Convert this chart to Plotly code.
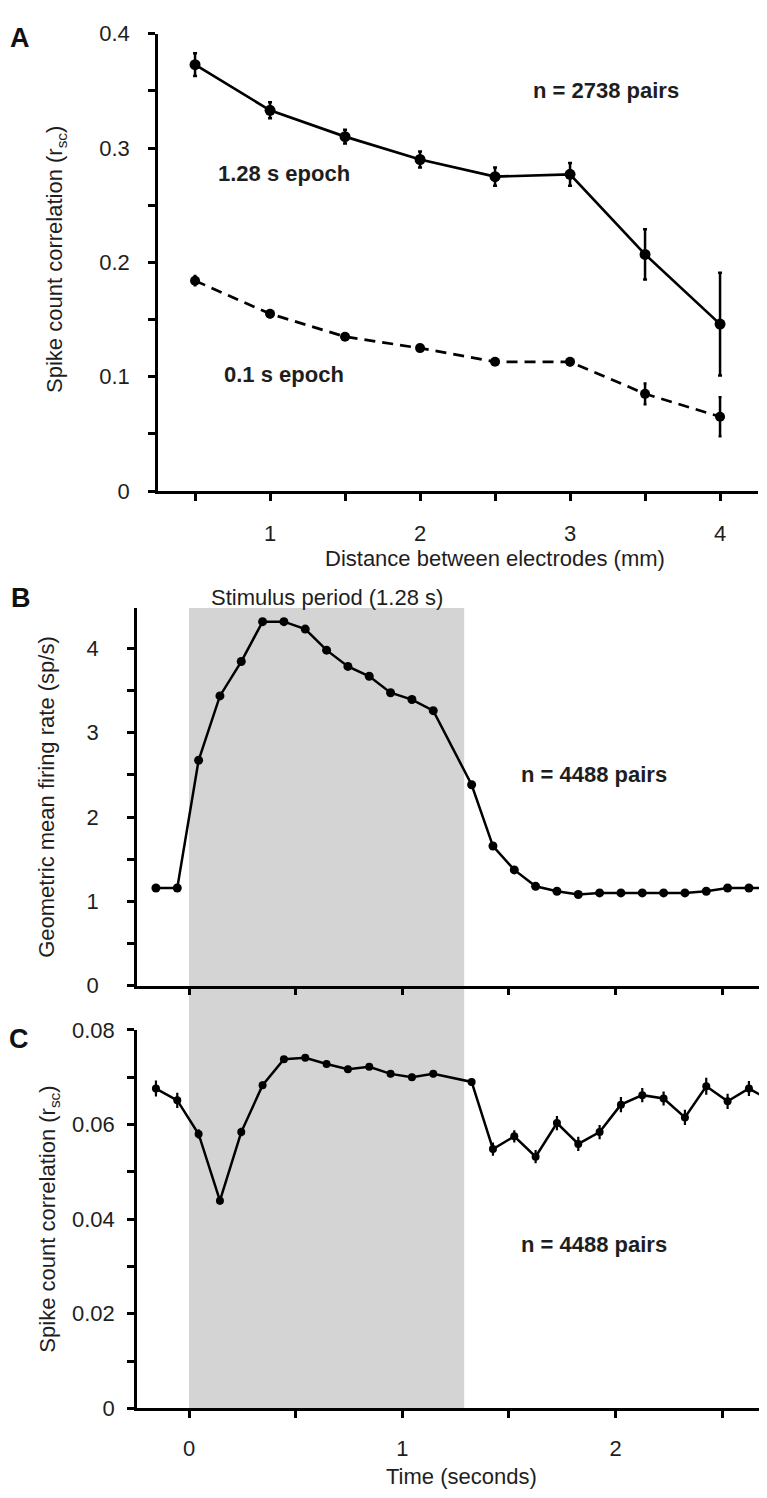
import plotly.graph_objects as go

# ---------------- data ----------------
# Panel A
distance_mm = [0.5, 1.0, 1.5, 2.0, 2.5, 3.0, 3.5, 4.0]
rsc_long = [0.373, 0.333, 0.310, 0.290, 0.275, 0.277, 0.207, 0.146]
rsc_long_err = [0.010, 0.007, 0.006, 0.007, 0.008, 0.010, 0.022, 0.045]
rsc_short = [0.184, 0.155, 0.135, 0.125, 0.113, 0.113, 0.085, 0.065]
rsc_short_err = [0.004, 0.003, 0.002, 0.002, 0.002, 0.003, 0.009, 0.017]

# Panels B and C
time_s = [-0.155, -0.055, 0.045, 0.145, 0.245, 0.345, 0.445, 0.545, 0.645, 0.745,
          0.845, 0.945, 1.045, 1.145, 1.325, 1.425, 1.525, 1.625, 1.725, 1.825,
          1.925, 2.025, 2.125, 2.225, 2.325, 2.425, 2.525, 2.625, 2.725]
rate = [1.158, 1.158, 2.674, 3.437, 3.845, 4.318, 4.318, 4.230, 3.980, 3.787,
        3.670, 3.475, 3.394, 3.262, 2.383, 1.656, 1.373, 1.178, 1.120, 1.081,
        1.100, 1.100, 1.100, 1.100, 1.100, 1.120, 1.158, 1.158, 1.158]
rsc_time = [0.0676, 0.0651, 0.0580, 0.0439, 0.0584, 0.0683, 0.0738, 0.0741, 0.0728, 0.0717,
            0.0722, 0.0707, 0.0700, 0.0707, 0.0690, 0.0548, 0.0575, 0.0532, 0.0603, 0.0559,
            0.0584, 0.0642, 0.0662, 0.0655, 0.0615, 0.0681, 0.0649, 0.0676, 0.0651]
rsc_time_err = [0.0017, 0.0016, 0.0010, 0.0008, 0.0009, 0.0008, 0.0007, 0.0007, 0.0007, 0.0007,
                0.0007, 0.0007, 0.0007, 0.0007, 0.0008, 0.0014, 0.0013, 0.0014, 0.0015, 0.0015,
                0.0015, 0.0016, 0.0015, 0.0015, 0.0016, 0.0018, 0.0016, 0.0016, 0.0016]
stim_start, stim_end = 0.0, 1.29

# tick values / labels (major = labelled, minor = unlabelled)
a_yticks = [0, 0.1, 0.2, 0.3, 0.4]
a_ytext = ["0", "0.1", "0.2", "0.3", "0.4"]
a_yminor = [0.05, 0.15, 0.25, 0.35]
a_xticks = [1, 2, 3, 4]
a_xtext = ["1", "2", "3", "4"]
a_xminor = [0.5, 1.5, 2.5, 3.5]
b_yticks = [0, 1, 2, 3, 4]
b_ytext = ["0", "1", "2", "3", "4"]
b_yminor = [0.5, 1.5, 2.5, 3.5]
t_ticks = [0, 1, 2]
t_text = ["0", "1", "2"]
t_minor = [0.5, 1.5, 2.5]
t_all = [0, 0.5, 1, 1.5, 2, 2.5]
c_yticks = [0, 0.02, 0.04, 0.06, 0.08]
c_ytext = ["0", "0.02", "0.04", "0.06", "0.08"]
c_yminor = [0.01, 0.03, 0.05, 0.07]

# ---------------- layout helpers ----------------
W, H = 767, 1498
FONT = "Liberation Sans, Arial, Helvetica, sans-serif"


def fx(p):
    return p / W


def fy(p):
    return 1 - p / H


fig = go.Figure()

# Panel A traces
fig.add_trace(go.Scatter(
    x=distance_mm, y=rsc_long, mode="lines+markers",
    line=dict(color="black", width=2.7),
    marker=dict(color="black", size=11),
    error_y=dict(type="data", array=rsc_long_err, color="black", thickness=2.5, width=2),
    xaxis="x", yaxis="y", showlegend=False))
fig.add_trace(go.Scatter(
    x=distance_mm, y=rsc_short, mode="lines+markers",
    line=dict(color="black", width=2.7, dash="11px,7px"),
    marker=dict(color="black", size=10),
    error_y=dict(type="data", array=rsc_short_err, color="black", thickness=2.5, width=1.5),
    xaxis="x", yaxis="y", showlegend=False))

# Panel B trace
fig.add_trace(go.Scatter(
    x=time_s, y=rate, mode="lines+markers",
    line=dict(color="black", width=2.5),
    marker=dict(color="black", size=9),
    cliponaxis=False,
    xaxis="x2", yaxis="y2", showlegend=False))

# Panel C trace
fig.add_trace(go.Scatter(
    x=time_s, y=rsc_time, mode="lines+markers",
    line=dict(color="black", width=2.5),
    marker=dict(color="black", size=8),
    error_y=dict(type="data", array=rsc_time_err, color="black", thickness=2.2, width=0),
    cliponaxis=False,
    xaxis="x3", yaxis="y3", showlegend=False))

axis_style = dict(showline=True, linecolor="black", linewidth=2.5, ticks="outside",
                  ticklen=7, tickwidth=2.5, tickcolor="black", showgrid=False,
                  zeroline=False, tickfont=dict(family=FONT, size=22, color="#1e1e1e"))


def minor(vals):
    return dict(tickmode="array", tickvals=vals, ticks="outside", ticklen=7,
                tickwidth=2.5, tickcolor="black", showgrid=False)


fig.update_layout(
    width=W, height=H,
    margin=dict(l=0, r=0, t=0, b=0),
    paper_bgcolor="white", plot_bgcolor="rgba(0,0,0,0)",
    font=dict(family=FONT, size=22, color="#1e1e1e"),
    xaxis=dict(domain=[fx(150), fx(750)], range=[0.253, 4.253], anchor="y",
               tickvals=a_xticks, ticktext=a_xtext, minor=minor(a_xminor),
               ticklabelstandoff=14, **axis_style),
    yaxis=dict(domain=[fy(479), fy(14)], range=[0, 0.4], anchor="x",
               tickvals=a_yticks, ticktext=a_ytext, minor=minor(a_yminor),
               ticklabelstandoff=14, **axis_style),
    xaxis2=dict(domain=[fx(129), fx(762)], range=[-0.2438, 2.7238], anchor="y2",
                tickvals=t_all, showticklabels=False, **axis_style),
    yaxis2=dict(domain=[fy(982), fy(598)], range=[0, 4.48], anchor="x2",
                tickvals=b_yticks, ticktext=b_ytext, minor=minor(b_yminor),
                ticklabelstandoff=24, **axis_style),
    xaxis3=dict(domain=[fx(129), fx(762)], range=[-0.2438, 2.7238], anchor="y3",
                tickvals=t_ticks, ticktext=t_text, minor=minor(t_minor),
                ticklabelstandoff=11, **axis_style),
    yaxis3=dict(domain=[fy(1412), fy(1027)], range=[0, 0.08], anchor="x3",
                tickvals=c_yticks, ticktext=c_ytext, minor=minor(c_yminor),
                ticklabelstandoff=8, **axis_style),
)

# stimulus shading spanning panels B and C
fig.add_shape(type="rect", xref="x2", yref="paper", x0=stim_start, x1=stim_end,
              y0=fy(1412), y1=fy(598), fillcolor="#d4d4d4", line=dict(width=0),
              layer="below")

ann = []
# panel letters
for txt, px, py in [("A", 12, 18), ("B", 13, 588), ("C", 11, 1036)]:
    ann.append(dict(text="<b>%s</b>" % txt, x=fx(px), y=fy(py), xref="paper", yref="paper",
                    xanchor="center", yanchor="middle", showarrow=False,
                    font=dict(family=FONT, size=27, color="#111")))
# axis titles
ann.append(dict(text="Spike count correlation (r<sub>sc</sub>)", x=fx(48), y=fy(244),
                xref="paper", yref="paper", textangle=-90, showarrow=False,
                xanchor="center", yanchor="middle"))
ann.append(dict(text="Distance between electrodes (mm)", x=fx(487), y=fy(548),
                xref="paper", yref="paper", showarrow=False, xanchor="center", yanchor="middle"))
ann.append(dict(text="Geometric mean firing rate (sp/s)", x=fx(39), y=fy(790),
                xref="paper", yref="paper", textangle=-90, showarrow=False,
                xanchor="center", yanchor="middle"))
ann.append(dict(text="Spike count correlation (r<sub>sc</sub>)", x=fx(41), y=fy(1220),
                xref="paper", yref="paper", textangle=-90, showarrow=False,
                xanchor="center", yanchor="middle"))
ann.append(dict(text="Time (seconds)", x=fx(453), y=fy(1481),
                xref="paper", yref="paper", showarrow=False, xanchor="center", yanchor="middle"))
ann.append(dict(text="Stimulus period (1.28 s)", x=0.645, y=fy(587),
                xref="x2", yref="paper", showarrow=False, xanchor="center", yanchor="middle"))
# in-plot labels
ann.append(dict(text="<b>1.28 s epoch</b>", x=1.09, y=0.278, xref="x", yref="y", showarrow=False))
ann.append(dict(text="<b>0.1 s epoch</b>", x=1.09, y=0.102, xref="x", yref="y", showarrow=False))
ann.append(dict(text="<b>n = 2738 pairs</b>", x=3.24, y=0.35, xref="x", yref="y", showarrow=False))
ann.append(dict(text="<b>n = 4488 pairs</b>", x=1.90, y=2.51, xref="x2", yref="y2", showarrow=False))
ann.append(dict(text="<b>n = 4488 pairs</b>", x=1.90, y=0.0347, xref="x3", yref="y3", showarrow=False))
fig.update_layout(annotations=ann)

fig.write_html("out.html")
